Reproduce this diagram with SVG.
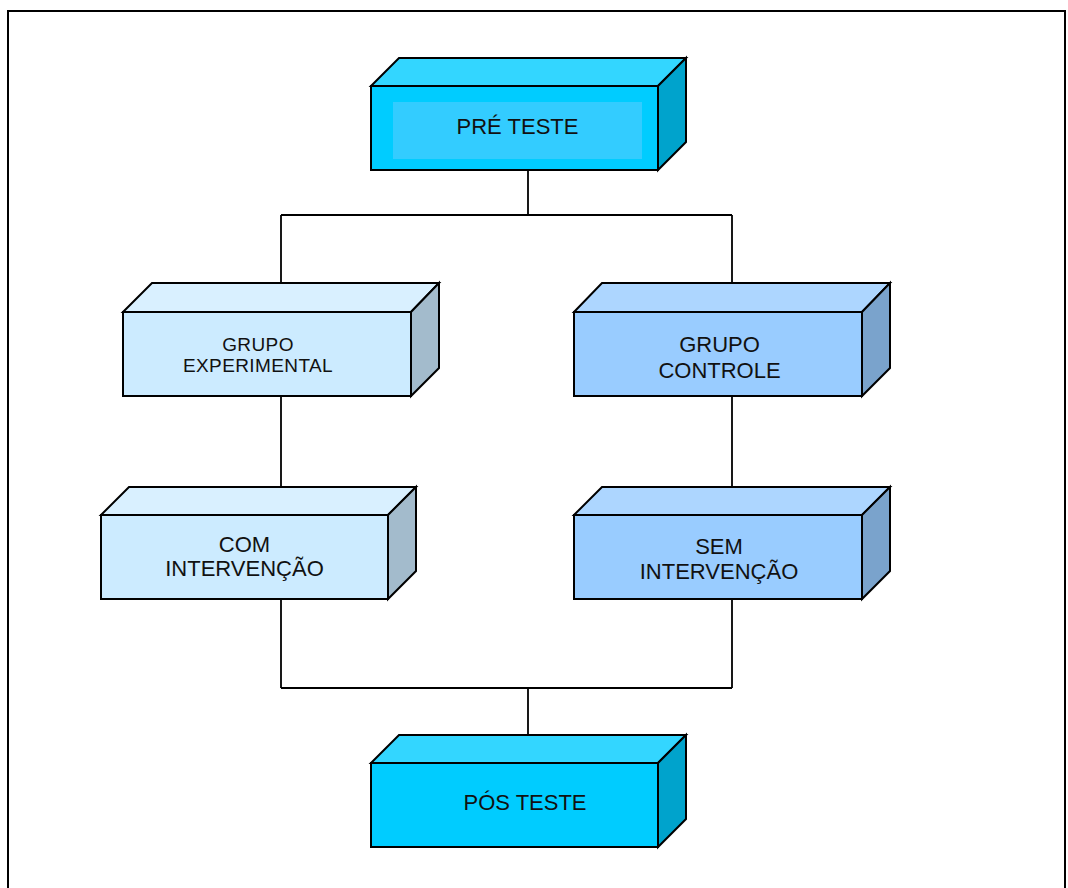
<svg xmlns="http://www.w3.org/2000/svg" width="1068" height="888" viewBox="0 0 1068 888">
<style>
.b path,.b rect{stroke:#000;stroke-width:2;stroke-linejoin:miter}
.t{font-family:"Liberation Sans",Arial,sans-serif;fill:#111;text-anchor:middle;font-size:22px}
.c{fill:none;stroke:#000;stroke-width:1.8}
.cy .f{fill:#00CCFF}.cy .tp{fill:#33D6FF}.cy .s{fill:#00A3CC}
.lb .f{fill:#CCEBFF}.lb .tp{fill:#D9F0FF}.lb .s{fill:#A3BBCC}
.mb .f{fill:#99CCFF}.mb .tp{fill:#ADD6FF}.mb .s{fill:#7AA3CC}
</style>
<rect x="8" y="11" width="1057" height="900" fill="#fff" stroke="#000" stroke-width="2"/>
<g id="connectors">
<path class="c" d="M528 170V215M281 215H732M281 215V283M732 215V283M281 396V487M732 396V487M281 598V688M732 599V688M281 688H732M528 688V735"/>
</g>
<g id="pre" class="b cy">
<path class="tp" d="M371 86L399 58H686L658 86Z"/>
<path class="s" d="M658 86L686 58V142L658 170Z"/>
<rect class="f" x="371" y="86" width="287" height="84"/>
<rect x="393" y="102" width="249" height="57" fill="#33CCFF" style="stroke:none"/>
<text class="t" x="517.5" y="134">PRÉ TESTE</text>
</g>
<g id="grupo-experimental" class="b lb">
<path class="tp" d="M123 312L152 283H439L411 312Z"/>
<path class="s" d="M411 312L439 283V368L411 396Z"/>
<rect class="f" x="123" y="312" width="288" height="84"/>
<text class="t" x="258" y="351" style="font-size:19px;letter-spacing:0.4px">GRUPO</text>
<text class="t" x="258" y="372" style="font-size:19px;letter-spacing:0.4px">EXPERIMENTAL</text>
</g>
<g id="grupo-controle" class="b mb">
<path class="tp" d="M574 312L602 283H890L862 312Z"/>
<path class="s" d="M862 312L890 283V368L862 396Z"/>
<rect class="f" x="574" y="312" width="288" height="84"/>
<text class="t" x="719.5" y="352">GRUPO</text>
<text class="t" x="719.5" y="378">CONTROLE</text>
</g>
<g id="com-intervencao" class="b lb">
<path class="tp" d="M101 515L129 487H416L388 515Z"/>
<path class="s" d="M388 515L416 487V571L388 599Z"/>
<rect class="f" x="101" y="515" width="287" height="84"/>
<text class="t" x="244.5" y="552">COM</text>
<text class="t" x="244.5" y="576">INTERVENÇÃO</text>
</g>
<g id="sem-intervencao" class="b mb">
<path class="tp" d="M574 515L602 487H890L862 515Z"/>
<path class="s" d="M862 515L890 487V571L862 599Z"/>
<rect class="f" x="574" y="515" width="288" height="84"/>
<text class="t" x="719" y="554">SEM</text>
<text class="t" x="719" y="579">INTERVENÇÃO</text>
</g>
<g id="pos" class="b cy">
<path class="tp" d="M371 763L399 735H686L658 763Z"/>
<path class="s" d="M658 763L686 735V819L658 847Z"/>
<rect class="f" x="371" y="763" width="287" height="84"/>
<text class="t" x="525" y="810">PÓS TESTE</text>
</g>
</svg>
